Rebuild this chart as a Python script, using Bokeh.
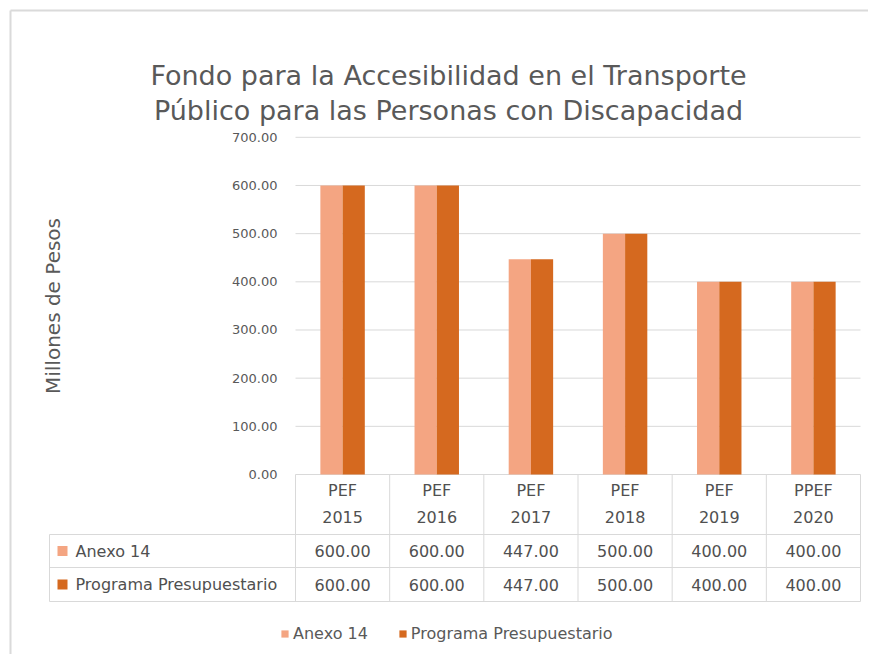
import math
from bokeh.plotting import figure
from bokeh.models import (Range1d, FixedTicker, NumeralTickFormatter, LinearAxis,
                          Legend, LegendItem)
from bokeh.core.properties import value
from bokeh.embed import file_html
from bokeh.resources import INLINE

# ---------------- data ----------------
categories = ["PEF 2015", "PEF 2016", "PEF 2017", "PEF 2018", "PEF 2019", "PPEF 2020"]
anexo_14 = [600.00, 600.00, 447.00, 500.00, 400.00, 400.00]
programa_presupuestario = [600.00, 600.00, 447.00, 500.00, 400.00, 400.00]
series_names = ["Anexo 14", "Programa Presupuestario"]
y_ticks = [0, 100, 200, 300, 400, 500, 600, 700]
title_lines = ["Fondo para la Accesibilidad en el Transporte",
               "Público para las Personas con Discapacidad"]
y_label = "Millones de Pesos"

# ---------------- style / layout ----------------
FONT = "DejaVu Sans"
LIGHT = "#F4A582"
DARK = "#D5691F"
GRID = "#D9D9D9"
BORDER = "#DADADA"
TXT = "#595959"
TBL_TXT = "#505050"
W, H = 868, 654
n = len(categories)

# pixel layout of the chart area (page pixels)
PLOT_L, PLOT_R = 295, 860          # category axis extent
ZERO_Y = 474                       # pixel row of value 0
PX_PER_UNIT = 48.17 / 100          # pixels per value unit
CAT_W = (PLOT_R - PLOT_L) / n


def X(px):
    """page pixel column -> x data units (category units)"""
    return (px - PLOT_L) / CAT_W


def Y(py):
    """page pixel row -> y data units (value units)"""
    return (ZERO_Y - py) / PX_PER_UNIT


p = figure(x_range=Range1d(X(0), X(W)), y_range=Range1d(Y(H), Y(0)),
           width=W, height=H, min_border=0,
           x_axis_location=None, y_axis_location=None,
           output_backend="svg", toolbar_location=None, tools="")
p.grid.visible = False
p.outline_line_color = None
p.background_fill_color = "white"
p.border_fill_color = "white"

# value axis placed at the left edge of the category area
yax = LinearAxis(fixed_location=0, ticker=FixedTicker(ticks=y_ticks),
                 formatter=NumeralTickFormatter(format="0.00"),
                 bounds=(y_ticks[0], y_ticks[-1]))
yax.axis_line_color = None
yax.major_tick_line_color = None
yax.minor_tick_line_color = None
yax.major_tick_out = 0
yax.major_tick_in = 0
yax.major_label_standoff = 18
yax.major_label_text_font = FONT
yax.major_label_text_font_size = "13px"
yax.major_label_text_color = TXT
yax.axis_label = y_label
yax.axis_label_text_font = FONT
yax.axis_label_text_font_size = "20px"
yax.axis_label_text_font_style = "normal"
yax.axis_label_text_color = TXT
yax.axis_label_standoff = 164
p.add_layout(yax, "left")

# outer chart border (top and left)
p.segment(x0=[X(10), X(10)], y0=[Y(10), Y(10)], x1=[X(10), X(W)], y1=[Y(H), Y(10)],
          line_color=BORDER, line_width=2)

# horizontal gridlines at tick values
p.segment(x0=[0] * len(y_ticks), y0=y_ticks, x1=[n] * len(y_ticks), y1=y_ticks,
          line_color=GRID, line_width=1)

# bars
centers = [i + 0.5 for i in range(n)]
BW = 0.236
p.vbar(x=[c - BW / 2 for c in centers], top=anexo_14, bottom=0, width=BW,
       fill_color=LIGHT, line_color=None)
p.vbar(x=[c + BW / 2 for c in centers], top=programa_presupuestario, bottom=0, width=BW,
       fill_color=DARK, line_color=None)

# title
p.text(x=[X(448), X(448)], y=[Y(75), Y(110)], text=title_lines,
       text_align="center", text_baseline="middle", text_font=value(FONT),
       text_font_size="27px", text_color=TXT)

# ---------------- data table ----------------
TBL_L = X(49)
row_lines = [Y(534), Y(567), Y(601)]
# horizontal borders of the two series rows
p.segment(x0=[TBL_L] * 3, y0=row_lines, x1=[n] * 3, y1=row_lines,
          line_color=GRID, line_width=1)
# vertical borders
vx = [TBL_L] + list(range(n + 1))
vy0 = [row_lines[0]] + [0] * (n + 1)
p.segment(x0=vx, y0=vy0, x1=vx, y1=[row_lines[2]] * (n + 2),
          line_color=GRID, line_width=1)

tkw = dict(text_align="center", text_baseline="middle", text_font=value(FONT),
           text_font_size="16px", text_color=TBL_TXT)
head1 = [c.split(" ")[0] for c in categories]
head2 = [c.split(" ")[1] for c in categories]
p.text(x=centers, y=[Y(490)] * n, text=head1, **tkw)
p.text(x=centers, y=[Y(516)] * n, text=head2, **tkw)
row_y = [(row_lines[0] + row_lines[1]) / 2, (row_lines[1] + row_lines[2]) / 2]
p.text(x=centers, y=[row_y[0]] * n, text=[f"{v:.2f}" for v in anexo_14], **tkw)
p.text(x=centers, y=[row_y[1]] * n,
       text=[f"{v:.2f}" for v in programa_presupuestario], **tkw)

# colour keys and row labels
sqA = p.rect(x=[X(62)], y=[row_y[0]], width=10, height=10, width_units="screen",
             height_units="screen", fill_color=LIGHT, line_color=None)
sqB = p.rect(x=[X(62)], y=[row_y[1]], width=10, height=10, width_units="screen",
             height_units="screen", fill_color=DARK, line_color=None)
p.text(x=[X(75), X(75)], y=row_y, text=series_names, text_align="left",
       text_baseline="middle", text_font=value(FONT), text_font_size="16px",
       text_color=TBL_TXT)

# ---------------- legend ----------------
legend = Legend(items=[LegendItem(label=series_names[0], renderers=[sqA]),
                       LegendItem(label=series_names[1], renderers=[sqB])],
                location=(280, H - 643), orientation="horizontal",
                glyph_width=9, glyph_height=9, label_height=20,
                label_standoff=4, spacing=30, padding=0, margin=0,
                label_text_font=FONT, label_text_font_size="16px",
                label_text_color=TXT, border_line_color=None,
                background_fill_alpha=0)
p.add_layout(legend)

open("out.html", "w").write(file_html(p, INLINE))
